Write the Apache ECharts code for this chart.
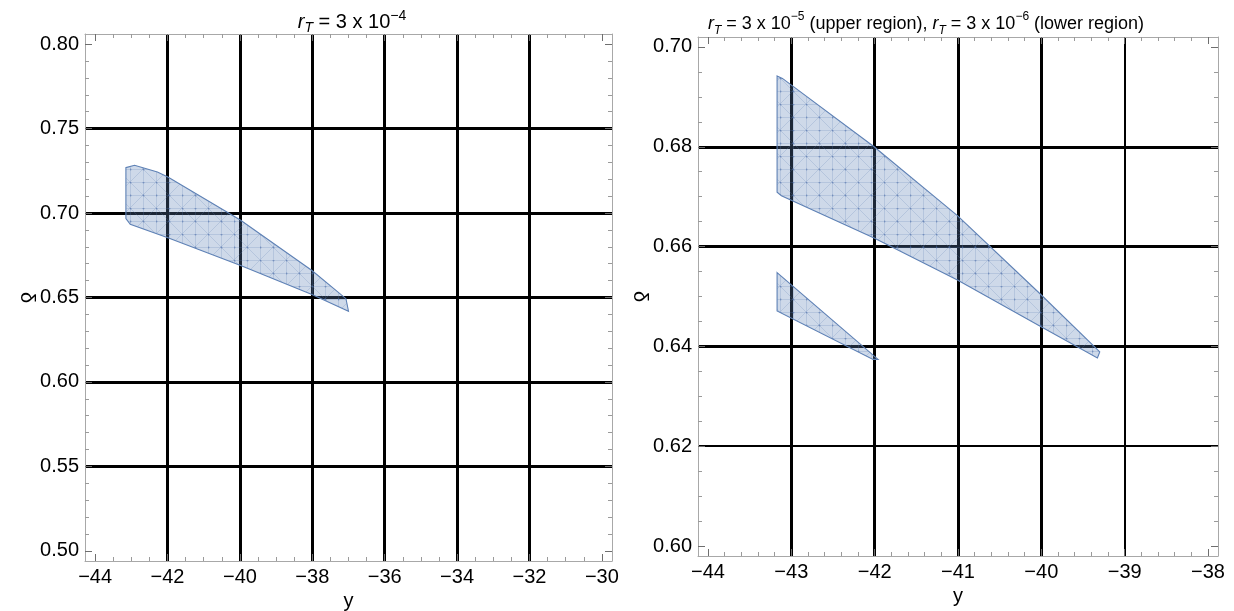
<!DOCTYPE html>
<html>
<head>
<meta charset="utf-8">
<script src="https://cdn.jsdelivr.net/npm/echarts@6/dist/echarts.min.js"></script>
<style>
  html, body { margin: 0; background: #fff; }
  #main { width: 1234px; height: 611px; }
</style>
</head>
<body>
<div id="main"></div>
<script>
const FONT = '"Liberation Sans", Arial, sans-serif'

// left panel, r_T = 3 x 10^-4
const leftXRange = [-44.28, -29.72]
const leftYRange = [0.494, 0.806]
const leftXTicks = [-44, -42, -40, -38, -36, -34, -32, -30]
const leftYTicks = [0.50, 0.55, 0.60, 0.65, 0.70, 0.75, 0.80]
const leftXGrid = [-42, -40, -38, -36, -34, -32]
const leftYGrid = [0.55, 0.60, 0.65, 0.70, 0.75]
const leftRegion = [
  [-43.15, 0.7269], [-42.91, 0.7283], [-42.28, 0.7243], [-41.99, 0.7213],
  [-40.36, 0.7006], [-39.98, 0.6957], [-38.01, 0.6660], [-37.07, 0.6493],
  [-37.00, 0.6419], [-38.01, 0.6518], [-39.98, 0.6690], [-41.99, 0.6854],
  [-43.03, 0.6933], [-43.15, 0.6967]
]

// right panel, r_T = 3 x 10^-5 (upper), 3 x 10^-6 (lower)
const rightXRange = [-44.12, -37.88]
const rightYRange = [0.598, 0.702]
const rightXTicks = [-44, -43, -42, -41, -40, -39, -38]
const rightYTicks = [0.60, 0.62, 0.64, 0.66, 0.68, 0.70]
const rightXGrid = [-43, -42, -41, -40]
const rightXGridThin = [-39]
const rightYGrid = [0.64, 0.66, 0.68]
const rightYGridThin = [0.62]
const upperRegion = [
  [-43.171, 0.6942], [-43.107, 0.6937], [-42.007, 0.6800], [-41.007, 0.6662],
  [-40.019, 0.6506], [-39.299, 0.6389], [-39.327, 0.6377], [-40.019, 0.6441],
  [-41.007, 0.6533], [-42.007, 0.6617], [-43.119, 0.6702], [-43.171, 0.6709]
]
const lowerRegion = [
  [-43.171, 0.6548], [-41.959, 0.6374], [-42.019, 0.6374], [-43.171, 0.6471]
]

const minorsBetween = (ticks, n) => {
  const out = []
  for (let i = 0; i < ticks.length - 1; i++) {
    const step = (ticks[i + 1] - ticks[i]) / (n + 1)
    for (let k = 1; k <= n; k++) out.push(+(ticks[i] + step * k).toFixed(4))
  }
  return out
}

const fmtX = v => (v < 0 ? '\u2212' + Math.abs(v) : String(v))
const fmtY = v => v.toFixed(2)

const frameLine = { show: true, onZero: false, lineStyle: { color: '#a8a8a8', width: 1 } }

function makeAxes (dim, gridIndex, range, ticks, minors, thick, thin, fmt) {
  const sides = dim === 'x' ? ['bottom', 'top'] : ['left', 'right']
  const base = {
    type: 'value', gridIndex, min: range[0], max: range[1],
    axisLine: { show: false }, axisTick: { show: false },
    axisLabel: { show: false }, splitLine: { show: false }
  }
  const axes = []
  const main = {
    ...base, position: sides[0], axisLine: frameLine,
    axisTick: { show: true, inside: true, length: 7, customValues: ticks, lineStyle: { color: '#6e6e6e' } },
    axisLabel: { show: true, customValues: ticks, formatter: fmt, fontSize: 20, color: '#000', fontFamily: FONT, margin: 6 }
  }
  if (dim === 'x') {
    Object.assign(main, { name: 'y', nameLocation: 'middle', nameGap: 27,
      nameTextStyle: { fontSize: 20, color: '#000', fontFamily: FONT } })
  } else {
    Object.assign(main, { name: 'δ', nameLocation: 'middle', nameGap: 46, nameRotate: -90,
      nameTextStyle: { fontSize: 20, color: '#000', fontFamily: FONT } })
  }
  axes.push(main)
  axes.push({ ...base, position: sides[1], axisLine: frameLine,
    axisTick: { show: true, inside: true, length: 7, customValues: ticks, lineStyle: { color: '#6e6e6e' } } })
  sides.forEach(side => {
    axes.push({ ...base, position: side,
      axisTick: { show: true, inside: true, length: 4, customValues: minors, lineStyle: { color: '#9a9a9a' } } })
  })
  axes.push({ ...base, position: sides[0], axisTick: { show: false, customValues: thick },
    splitLine: { show: true, lineStyle: { color: '#000', width: 3 } } })
  if (thin.length) {
    axes.push({ ...base, position: sides[0], axisTick: { show: false, customValues: thin },
      splitLine: { show: true, lineStyle: { color: '#000', width: 2 } } })
  }
  return axes
}

// faint mesh texture like the region plot's sampling mesh
function meshPattern () {
  const s = 26
  const c = document.createElement('canvas')
  c.width = s
  c.height = s
  const g = c.getContext('2d')
  g.fillStyle = 'rgba(94,129,181,0.30)'
  g.fillRect(0, 0, s, s)
  g.strokeStyle = 'rgba(94,129,181,0.28)'
  g.lineWidth = 0.8
  g.beginPath()
  g.moveTo(0, 0.5); g.lineTo(s, 0.5)
  g.moveTo(0, 13.5); g.lineTo(s, 13.5)
  g.moveTo(0.5, 0); g.lineTo(0.5, s)
  g.moveTo(13.5, 0); g.lineTo(13.5, s)
  g.moveTo(0, 0); g.lineTo(s, s)
  g.moveTo(s, 0); g.lineTo(0, s)
  g.stroke()
  g.fillStyle = 'rgba(80,112,170,0.55)'
  ;[[0.5, 0.5], [13.5, 13.5], [13.5, 0.5], [0.5, 13.5]].forEach(([x, y]) => {
    g.beginPath(); g.arc(x, y, 1, 0, Math.PI * 2); g.fill()
  })
  return { image: c, repeat: 'repeat' }
}
const regionFill = meshPattern()

const regionItem = points => (params, api) => {
  if (params.dataIndex !== 0) return null
  return {
    type: 'polygon',
    shape: { points: points.map(p => api.coord(p)) },
    style: { fill: regionFill, stroke: '#5e81b5', lineWidth: 1.1 }
  }
}

const titleStyle = size => ({
  fontSize: size, fontWeight: 'normal', color: '#000', fontFamily: FONT, lineHeight: 26,
  rich: {
    i: { fontSize: size, fontStyle: 'italic', fontFamily: FONT, lineHeight: 26 },
    sub: { fontSize: Math.round(size * 0.68), fontStyle: 'italic', fontFamily: FONT, verticalAlign: 'bottom', lineHeight: 12 },
    sup: { fontSize: Math.round(size * 0.68), fontFamily: FONT, verticalAlign: 'top', lineHeight: 12 }
  }
})

const xAxes = [
  ...makeAxes('x', 0, leftXRange, leftXTicks, minorsBetween(leftXTicks, 3), leftXGrid, [], fmtX),
  ...makeAxes('x', 1, rightXRange, rightXTicks, minorsBetween(rightXTicks, 4), rightXGrid, rightXGridThin, fmtX)
]
const yAxes = [
  ...makeAxes('y', 0, leftYRange, leftYTicks, minorsBetween(leftYTicks, 4), leftYGrid, [], fmtY),
  ...makeAxes('y', 1, rightYRange, rightYTicks, minorsBetween(rightYTicks, 3), rightYGrid, rightYGridThin, fmtY)
]

const chart = echarts.init(document.getElementById('main'))
chart.setOption({
  animation: false,
  backgroundColor: '#fff',
  title: [
    { text: '{i|r}{sub|T} = 3 x 10{sup|\u22124}', left: 347, top: 4, textAlign: 'center', textStyle: titleStyle(20) },
    { text: '{i|r}{sub|T} = 3 x 10{sup|\u22125} (upper region), {i|r}{sub|T} = 3 x 10{sup|\u22126} (lower region)',
      left: 921, top: 6, textAlign: 'center', textStyle: titleStyle(18) }
  ],
  grid: [
    { left: 85, top: 34, width: 527, height: 527, outerBoundsMode: 'none' },
    { left: 698, top: 37, width: 520, height: 519, outerBoundsMode: 'none' }
  ],
  xAxis: xAxes,
  yAxis: yAxes,
  series: [
    { type: 'custom', xAxisIndex: 0, yAxisIndex: 0, data: leftRegion, renderItem: regionItem(leftRegion), clip: true, silent: true },
    { type: 'custom', xAxisIndex: 5, yAxisIndex: 5, data: upperRegion, renderItem: regionItem(upperRegion), clip: true, silent: true },
    { type: 'custom', xAxisIndex: 5, yAxisIndex: 5, data: lowerRegion, renderItem: regionItem(lowerRegion), clip: true, silent: true }
  ]
})
</script>
</body>
</html>
